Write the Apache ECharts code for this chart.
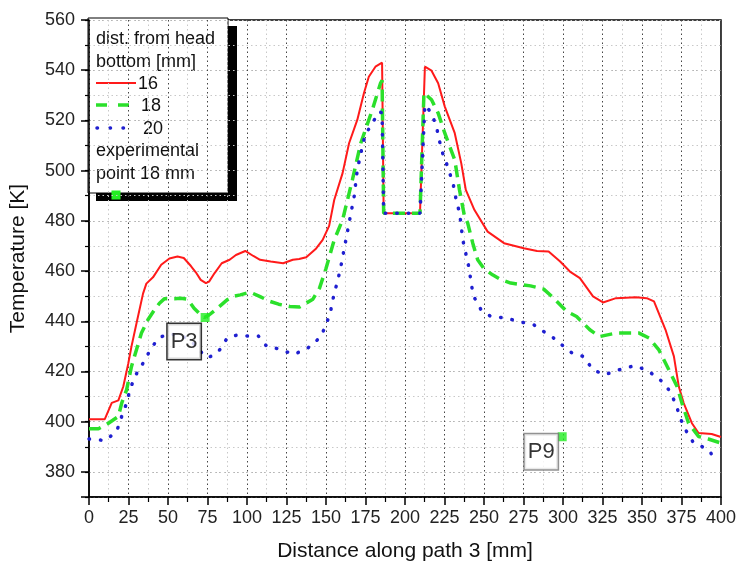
<!DOCTYPE html>
<html>
<head>
<meta charset="utf-8">
<script src="https://cdn.jsdelivr.net/npm/echarts@6/dist/echarts.min.js"></script>
<style>
  html, body { margin: 0; padding: 0; background: #fff; }
  #chart { width: 739px; height: 570px; }
</style>
</head>
<body>
<div id="chart"></div>
<script>
const FONT = "Liberation Sans";

// distance along path [mm], temperature [K]
const red16 = [
  [0, 401], [10, 401], [14.4, 407.5], [18.6, 408.5], [21.7, 414], [24.8, 423], [26.9, 430],
  [30, 439], [34.2, 451], [36.3, 455], [40.5, 457.5], [45.7, 462.5], [50.9, 465], [56, 465.8],
  [60, 465.2], [64.5, 462], [67.6, 459.5], [70.7, 456.5], [74, 455.2], [76, 455.8], [79.5, 459.2],
  [84, 463.1], [89, 464.5], [93, 466.4], [98.9, 468], [104, 466], [108.3, 464.5], [115, 463.8],
  [122.9, 463.1], [129, 464.5], [133, 464.8], [137.5, 465.5], [143.8, 469], [147.9, 472.4],
  [152, 478], [155.2, 488.3], [160.5, 499], [164.6, 510.9], [169.8, 520.2], [174, 530.8],
  [177.1, 537.4], [181.3, 541.4], [185.5, 543], [186.5, 483], [209.5, 483], [212.6, 541.4],
  [216.8, 539.8], [221, 534.8], [225.2, 525.5], [231.5, 514.9], [235.6, 503], [238.5, 492.3],
  [243.9, 484.4], [252.3, 475.7], [262.7, 471.1], [275.2, 469.1], [283.6, 468], [290.9, 467.8],
  [298.2, 463.8], [304.4, 459.8], [310.7, 457.2], [319, 449.9], [325.3, 447.5], [333.6, 449.2],
  [346.2, 449.6], [353, 449.2], [357.6, 447.9], [364.9, 436.6], [370.2, 426], [373.3, 414],
  [376.4, 407.4], [381.6, 399.4], [385.8, 395.5], [394.1, 395.1], [400, 393.9]
];

const green18 = [
  [0, 397.2], [6, 397.2], [12.3, 399.4], [18.6, 402.1], [20.7, 407.4], [23.8, 412.7], [26.9, 422],
  [30, 428.6], [33.2, 435.3], [37.3, 440.6], [41.5, 444.6], [44.6, 447.2], [47.8, 449], [54, 449],
  [58, 449.2], [62.4, 448.8], [66.5, 445.2], [70, 443], [73, 441.5], [76, 442.5], [80.1, 444.6],
  [87.4, 448.5], [92, 450], [95.8, 450.5], [102, 451.6], [108.3, 449.8], [114.6, 447.9],
  [120, 446.8], [127.1, 445.9], [133.3, 445.7], [141.7, 448.8], [145.9, 453.2], [150, 461],
  [155.2, 472.4], [160.5, 480.4], [166.7, 496.3], [172, 510.9], [179.3, 524.2], [184.5, 534.8],
  [185.5, 536], [186.5, 483], [209.5, 483], [212, 531], [216.8, 528.2], [221, 522.9],
  [225.2, 514.9], [231.5, 504.3], [234.5, 492.3], [237.7, 481.7], [239.7, 479.1], [242.9, 471.1],
  [246, 464.5], [250, 461], [255.4, 458.5], [261, 456.5], [266.9, 455.2], [279.4, 454.1],
  [287.8, 452.8], [294.1, 449.2], [302.4, 443.9], [308.6, 441.9], [317, 436.6], [323.2, 433.9],
  [333.6, 435.3], [348.2, 435.3], [354.5, 433.3], [360.7, 428.6], [367, 420.7], [372.2, 414],
  [375.3, 407.4], [379.5, 399.4], [385.8, 394.1], [392, 393.1], [400, 391.5]
];

const blue20 = [
  [0, 393.1], [10.2, 392.5], [17.5, 396.1], [20.7, 402.1], [23.8, 407.4], [25.9, 412.7], [29, 418],
  [34.2, 423.3], [39.4, 429.3], [44, 433.3], [50, 435], [57, 434.5], [63, 433], [68, 430],
  [72, 427], [75, 425.5], [79, 426.5], [83.3, 429], [87.4, 433.3], [93.7, 434.5], [102, 434],
  [107.2, 434.1], [112.5, 430], [120.8, 428.9], [129.2, 426.8], [137.5, 428.8], [145.9, 433.3],
  [150, 438.2], [153.1, 444.6], [155.2, 451.2], [157.3, 455.8], [159.4, 461.8], [162.6, 472.4],
  [164.6, 479.1], [167.8, 489.7], [169.8, 500.3], [173, 509.6], [175.1, 514.9], [178.2, 517.5],
  [183.4, 523.5], [185.5, 523], [186.5, 483], [209.5, 483], [212.6, 526.2], [216.8, 522.9],
  [219.9, 517.5], [223.1, 508.2], [226.2, 503], [230.4, 495], [232.4, 488.3], [234.6, 483],
  [236.6, 472.4], [238.7, 466.4], [240.8, 460.5], [241.8, 455.2], [243.5, 449.9], [248.1, 444.6],
  [254.3, 441.9], [263.7, 441.3], [272.1, 439.9], [281.5, 438.6], [287.8, 435.9], [293, 433.9],
  [299.2, 430.6], [305.5, 427.5], [312.8, 426], [319, 420.7], [326.3, 418.7], [335.7, 420.7],
  [345.1, 422.3], [352.4, 420.7], [360.7, 417.3], [367, 412.7], [371.2, 407.4], [374.3, 401.3],
  [377.5, 396.8], [382.7, 391.5], [387.9, 390.1], [393.1, 388.1], [394, 387]
];

const expPoints = [[73.5, 441.5], [299.5, 394]];
const expNames = ["P3", "P9"];

const legendLines = ["dist. from head", "bottom [mm]"];
const seriesNames = ["16", "18", "20"];
const expLegend = ["experimental", "point 18 mm"];

// label box placement relative to each experimental point (px)
const expLabelOffsets = [[-21, 24], [-21, 15]];
const expLabelBorders = ["#000", "#777"];

const dotted = [1.5, 3];

function legendGraphic() {
  const text = (str, x, y) => ({
    type: "text",
    x, y,
    style: { text: str, fill: "#111", font: `18px "${FONT}"`, textVerticalAlign: "middle" }
  });
  const line = (x1, x2, y, style) => ({
    type: "line",
    shape: { x1, y1: y, x2, y2: y },
    style
  });
  return {
    type: "group",
    z: 100,
    children: [
      { type: "rect", shape: { x: 96, y: 26, width: 141, height: 175 }, style: { fill: "#000" } },
      { type: "rect", shape: { x: 88, y: 18, width: 140, height: 175 }, style: { fill: "#fff", stroke: "#000", lineWidth: 1 } },
      text(legendLines[0], 96, 39),
      text(legendLines[1], 96, 62),
      line(96, 136, 83, { stroke: "#ff1a1a", lineWidth: 2 }),
      text(seriesNames[0], 138, 84),
      line(96, 130, 105, { stroke: "#2be02b", lineWidth: 3.5, lineDash: [11, 11] }),
      text(seriesNames[1], 141, 106),
      line(97, 126, 128, { stroke: "#1f1fd0", lineWidth: 3.5, lineDash: [0.5, 12.5], lineCap: "round" }),
      text(seriesNames[2], 143, 129),
      text(expLegend[0], 96, 151),
      text(expLegend[1], 96, 174),
      { type: "rect", shape: { x: 111.5, y: 190.5, width: 9, height: 9 }, style: { fill: "#22ee22" } }
    ]
  };
}

function getOption() {
  const axisFont = { fontFamily: FONT, fontSize: 18, color: "#222" };
  const nameFont = { fontFamily: FONT, fontSize: 21, color: "#111" };
  return {
    backgroundColor: "#fff",
    animation: false,
    grid: { left: 87, right: 13, top: 20, bottom: 73, show: true, borderColor: "#000", borderWidth: 1.5 },
    xAxis: {
      type: "value",
      min: 0,
      max: 400,
      interval: 25,
      name: "Distance along path 3 [mm]",
      nameLocation: "middle",
      nameGap: 44,
      nameTextStyle: nameFont,
      axisLine: { lineStyle: { color: "#000", width: 1.5 } },
      axisTick: { length: 8, lineStyle: { color: "#000", width: 1.5 } },
      minorTick: { show: true, splitNumber: 2, length: 5, lineStyle: { color: "#000", width: 1.2 } },
      axisLabel: { ...axisFont, margin: 12 },
      splitLine: { lineStyle: { color: "#444", type: dotted, width: 1 } },
      minorSplitLine: { show: true, lineStyle: { color: "#c8c8c8", type: dotted, width: 1 } }
    },
    yAxis: [
      {
        type: "value",
        position: "left",
        min: 370,
        max: 560,
        splitNumber: 10,
        name: "Temperature [K]",
        nameLocation: "middle",
        nameGap: 60,
        nameTextStyle: nameFont,
        axisLine: { show: true, lineStyle: { color: "#000", width: 1.5 } },
        axisTick: { length: 8, lineStyle: { color: "#000", width: 1.5 } },
        axisLabel: { ...axisFont, margin: 14, formatter: (v) => (v % 20 === 0 ? String(v) : "") },
        splitLine: { lineStyle: { color: "#444", type: dotted, width: 1 } }
      },
      {
        type: "value",
        position: "left",
        min: 370,
        max: 560,
        interval: 10,
        axisLine: { show: false },
        axisTick: { length: 4, lineStyle: { color: "#000", width: 1.2 } },
        axisLabel: { show: false },
        splitLine: { lineStyle: { color: "#c8c8c8", type: dotted, width: 1 } }
      }
    ],
    series: [
      {
        type: "line", name: seriesNames[0], data: red16, symbol: "none", z: 2,
        lineStyle: { color: "#ff1a1a", width: 2 }
      },
      {
        type: "line", name: seriesNames[1], data: green18, symbol: "none", z: 3,
        lineStyle: { color: "#2be02b", width: 3.5, type: [12, 7] }
      },
      {
        type: "line", name: seriesNames[2], data: blue20, symbol: "none", z: 4,
        lineStyle: { color: "#1f1fd0", width: 3.5, type: [0.5, 11], cap: "round" }
      },
      {
        type: "scatter",
        z: 5,
        symbol: "rect",
        symbolSize: 9,
        itemStyle: { color: "#22ee22" },
        emphasis: { disabled: true },
        data: expPoints.map((p, i) => ({
          value: p,
          label: {
            show: true,
            position: "inside",
            offset: expLabelOffsets[i],
            formatter: expNames[i],
            fontFamily: FONT,
            fontSize: 22,
            color: "#000",
            textBorderWidth: 0,
            backgroundColor: "#fff",
            borderColor: expLabelBorders[i],
            borderWidth: 1.5,
            padding: [7, 3, 6, 3]
          }
        }))
      }
    ],
    graphic: [legendGraphic()]
  };
}

const chart = echarts.init(document.getElementById("chart"), null, { renderer: "canvas" });
chart.setOption(getOption());
</script>
</body>
</html>
